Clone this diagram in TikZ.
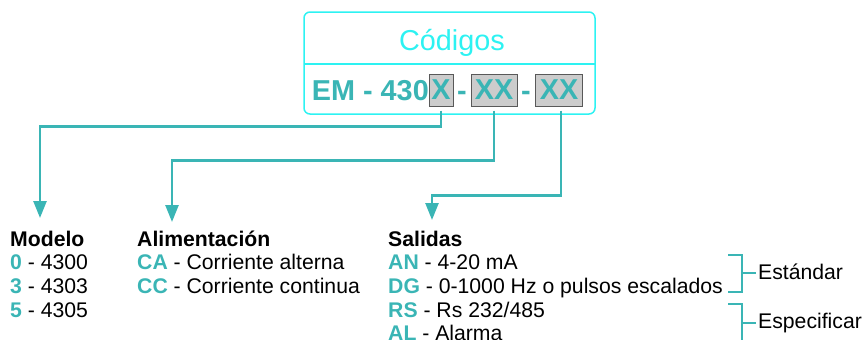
\documentclass[tikz,border=0pt]{standalone}
\usepackage{fontspec}
\setmainfont{Liberation Sans}
\usetikzlibrary{arrows.meta, positioning}
\definecolor{tealc}{RGB}{58,181,181}
\definecolor{cyanc}{RGB}{45,242,242}
\newcommand{\cod}[1]{\textbf{\textcolor{tealc}{#1}}}

\begin{document}
\begin{tikzpicture}[x=1pt, y=-1pt,
    codebox/.style={draw=black!65, fill=black!20, line width=1pt, inner sep=0pt, minimum height=32pt, text=tealc, font=\fontsize{28.8}{30}\selectfont\bfseries},
    lead/.style={draw=tealc, line width=2.5pt, -{Triangle[length=17pt,width=13pt]}},
    list/.style={anchor=base west, align=left, inner sep=0pt, font=\fontsize{21.2}{23.7}\selectfont},
    brak/.style={draw=tealc, line width=2pt}]
  \useasboundingbox (0,0) rectangle (863,340);

  % code box
  \draw[cyanc, line width=1.5pt, rounded corners=6pt] (304,12) rectangle (595,114);
  \draw[cyanc, line width=1.5pt] (304,64) -- (595,64);
  \node[text=cyanc, font=\fontsize{28.8}{30}\selectfont, anchor=base, inner sep=0pt] (codigos) at (452,50) {Códigos};
  \node[codebox, minimum width=24pt] (boxX) at (441,90) {X};
  \node[codebox, minimum width=46pt] (boxXX) at (494,90) {XX};
  \node[codebox, minimum width=47pt] (boxYY) at (559,90) {XX};
  \node[text=tealc, font=\fontsize{28.8}{30}\selectfont\bfseries, anchor=base east, inner sep=0pt] (em) at (429,100) {EM - 430};
  \node[text=tealc, font=\fontsize{28.8}{30}\selectfont\bfseries, anchor=base, inner sep=0pt] (dash1) at (462,100) {-};
  \node[text=tealc, font=\fontsize{28.8}{30}\selectfont\bfseries, anchor=base, inner sep=0pt] (dash2) at (526,100) {-};

  % lists (placed by the baseline of their last line)
  \node[list] (modelo) at (10,317.1) {\textbf{Modelo}\\\cod{0} - 4300\\\cod{3} - 4303\\\cod{5} - 4305};
  \node[list] (alim) at (137,293.4) {\textbf{Alimentación}\\\cod{CA} - Corriente alterna\\\cod{CC} - Corriente continua};
  \node[list] (salidas) at (388,340.8) {\textbf{Salidas}\\\cod{AN} - 4-20 mA\\\cod{DG} - 0-1000 Hz o pulsos escalados\\\cod{RS} - Rs 232/485\\\cod{AL} - Alarma};

  % arrows
  \coordinate (tipA) at (40,218);
  \coordinate (tipB) at (172,222);
  \coordinate (tipC) at (432,220);
  \draw[lead] ([yshift=-4pt]boxX.south) -- ++(0,16) -| (tipA);
  \draw[lead] ([yshift=-4pt]boxXX.south) -- ++(0,50) -| (tipB);
  \draw[lead] ([xshift=2pt,yshift=-4pt]boxYY.south) -- ++(0,85) -| (tipC);

  % brackets
  \node[list] (std) at (758,279) {Estándar};
  \node[list] (esp) at (758,328) {Especificar};
  \draw[brak] (728,255) -- (742,255) -- (742,292) -- (728,292);
  \draw[brak] (742,273) -- (756,273);
  \draw[brak] (728,304) -- (742,304) -- (742,341) -- (728,341);
  \draw[brak] (742,322.5) -- (756,322.5);
\end{tikzpicture}
\end{document}
